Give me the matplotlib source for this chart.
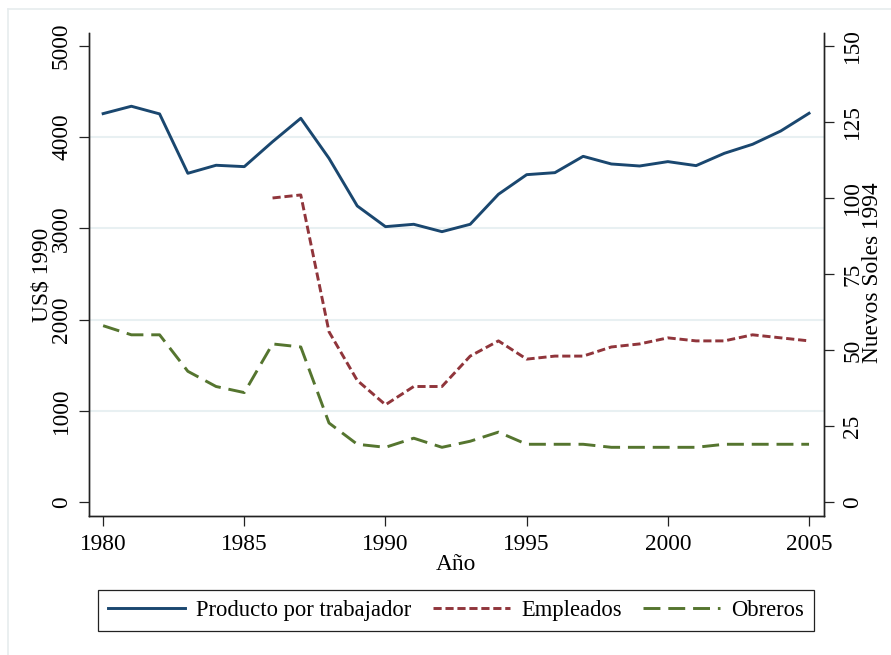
import numpy as np
import matplotlib
matplotlib.use('Agg')
import matplotlib.pyplot as plt
from matplotlib.lines import Line2D

plt.rcParams['font.family'] = ['Liberation Serif', 'DejaVu Serif']
plt.rcParams['font.size'] = 16.8

# Datos
anios = list(range(1980, 2006))
producto = [4258, 4339, 4255, 3604, 3692, 3677, 3950, 4207, 3768, 3246,
            3019, 3045, 2964, 3045, 3374, 3589, 3611, 3790, 3706, 3684,
            3732, 3688, 3823, 3922, 4068, 4262]
empleados = [np.nan] * 6 + [100, 101, 56, 40, 32, 38, 38, 48, 53, 47,
                            48, 48, 51, 52, 54, 53, 53, 55, 54, 53]
obreros = [58, 55, 55, 43, 38, 36, 52, 51, 26, 19, 18, 21, 18, 20, 23, 19,
           19, 19, 18, 18, 18, 18, 19, 19, 19, 19]

azul = '#1a476f'
granate = '#90353b'
verde = '#55752f'
grid_col = '#e8f0f2'
lw = 2.1
ls_emp = (0, (2.8, 1.3))
ls_obr = (0, (5.8, 2.7))

W, H = 891, 655
fig = plt.figure(figsize=(W / 100, H / 100), dpi=100)

# marco exterior claro
fig.add_artist(Line2D([8 / W, 8 / W], [0, 1 - 9 / H], color='#e6ecee', lw=1.2))
fig.add_artist(Line2D([8 / W, 1], [1 - 9 / H, 1 - 9 / H], color='#e6ecee', lw=1.2))

ax = fig.add_axes([89 / W, 1 - 516 / H, (824 - 89) / W, (516 - 33) / H])
ax2 = ax.twinx()

ax.plot(anios, producto, color=azul, lw=lw, zorder=3)
ax2.plot(anios, empleados, color=granate, lw=lw, linestyle=ls_emp)
ax2.plot(anios, obreros, color=verde, lw=lw, linestyle=ls_obr)

ax.set_xlim(1979.5, 2005.53)
ax.set_ylim(-153, 5142)
ax2.set_ylim(-153 * 150 / 5000, 5142 * 150 / 5000)

ax.set_xticks(range(1980, 2006, 5))
ax.set_yticks(range(0, 5001, 1000))
ax2.set_yticks(range(0, 151, 25))

ax.grid(axis='y', color=grid_col, lw=1.5)
ax.set_axisbelow(True)
gl = ax.yaxis.get_gridlines()
gl[0].set_visible(False)
gl[-1].set_visible(False)

for a in (ax, ax2):
    a.spines['top'].set_visible(False)
    for s in ('left', 'right', 'bottom'):
        a.spines[s].set_linewidth(1.0)
        a.spines[s].set_color('#222222')
    a.tick_params(length=7.2, width=0.9, color='#222222')
ax.tick_params(axis='y', pad=5)
ax2.tick_params(axis='y', pad=6)
ax.tick_params(axis='x', pad=5.5)
for lab in ax.get_yticklabels():
    lab.set_rotation(90)
    lab.set_va('center')
for lab in ax2.get_yticklabels():
    lab.set_rotation(90)
    lab.set_va('center')

fig.text(42 / W, 1 - 275 / H, 'US$ 1990', rotation=90, ha='center', va='center')
fig.text(873 / W, 1 - 273 / H, 'Nuevos Soles 1994', rotation=90, ha='center', va='center')
fig.text(456 / W, 1 - 565 / H, 'Año', ha='center', va='center')

handles = [Line2D([], [], color=azul, lw=lw),
           Line2D([], [], color=granate, lw=lw, linestyle=ls_emp),
           Line2D([], [], color=verde, lw=lw, linestyle=ls_obr)]
leg = fig.legend(handles, ['Producto por trabajador', 'Empleados', 'Obreros'],
                 loc='center', bbox_to_anchor=(456 / W, 1 - 610.5 / H), ncol=3,
                 fontsize=16.3, handlelength=3.4, handletextpad=0.5,
                 columnspacing=0.95, borderpad=0.42, fancybox=False, framealpha=1)
leg.get_frame().set_edgecolor('#222222')
leg.get_frame().set_linewidth(0.9)

fig.savefig('out.png', dpi=100)
